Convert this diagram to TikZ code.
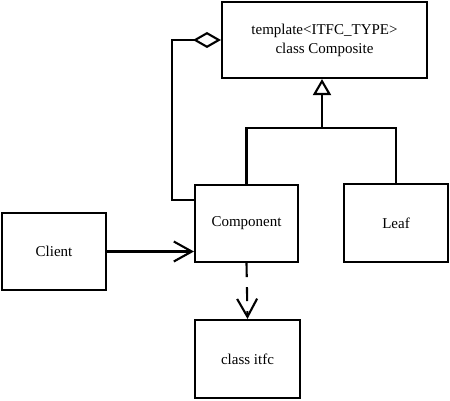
\documentclass[tikz,border=0pt]{standalone}
\usepackage{fontspec}
\setmainfont{Liberation Serif}
\usetikzlibrary{arrows.meta}

\tikzset{
  umlbox/.style={draw, line width=2.1pt, align=center, inner sep=0pt,
    font=\fontsize{15}{19}\selectfont},
  link/.style={line width=2.1pt},
  inherit/.style={link, -{Triangle[open, length=16pt, width=18pt, line width=2.1pt]}},
  aggr/.style={link, {Diamond[open, length=28pt, width=16pt, line width=2.1pt]}-},
  assoc/.style={link, -{Straight Barb[length=18pt, width=20pt, line width=2.1pt]}},
  depend/.style={assoc, dash pattern=on 14pt off 10pt},
}

\begin{document}
\begin{tikzpicture}[x=1pt,y=1pt]
\useasboundingbox (0,0) rectangle (450,400);
% boxes
\node[umlbox, minimum width=205, minimum height=76] (composite) at (324.5,360)
  {template<ITFC\_TYPE>\\class Composite};
\node[umlbox, minimum width=103, minimum height=77] (component) at (246.5,176.5) {Component};
\node[umlbox, minimum width=104, minimum height=78] (leaf) at (396,177) {Leaf};
\node[umlbox, minimum width=104, minimum height=77] (client) at (54,148.5) {Client};
\node[umlbox, minimum width=105, minimum height=78] (itfc) at (247.5,41) {class itfc};
% helper points
\coordinate (tee) at (322,272);
\coordinate (aggbend) at (172,200);
% inheritance
\draw[inherit] (tee) -- (tee |- composite.south);
\draw[link] (component.north) |- (tee) -| (leaf.north);
% aggregation
\draw[aggr] (composite.west) -| (aggbend) -- (aggbend -| component.west);
% association and dependency
\draw[assoc] (client.east) -- (client.east -| component.west);
\draw[depend] (component.south) -- (itfc.north);
\end{tikzpicture}
\end{document}
